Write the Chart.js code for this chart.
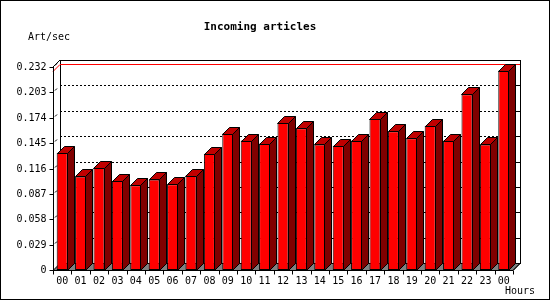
<!DOCTYPE html>
<html>
<head>
<meta charset="utf-8">
<script src="https://cdn.jsdelivr.net/npm/chart.js@4/dist/chart.umd.min.js"></script>
<style>
  body { margin: 0; background: #fff; }
  canvas { display: block; }
</style>
</head>
<body>
<canvas id="articlesChart" width="550" height="300"></canvas>
<script>
// Data
const hours = ['00', '01', '02', '03', '04', '05', '06', '07', '08', '09', '10', '11',
               '12', '13', '14', '15', '16', '17', '18', '19', '20', '21', '22', '23', '00'];
const articles = [0.134, 0.107, 0.1165, 0.102, 0.097, 0.1035, 0.098, 0.108, 0.133, 0.156, 0.148, 0.1445,
                  0.168, 0.162, 0.1435, 0.142, 0.148, 0.1725, 0.1585, 0.1505, 0.165, 0.148, 0.201, 0.1435, 0.228];
const yTicks = ['0', '0.029', '0.058', '0.087', '0.116', '0.145', '0.174', '0.203', '0.232'];

const DEPTH = 7;
const FONT = '10px "DejaVu Sans Mono", monospace';

function line(ctx, x1, y1, x2, y2) {
    ctx.beginPath();
    ctx.moveTo(x1, y1);
    ctx.lineTo(x2, y2);
    ctx.stroke();
}

function poly(ctx, pts, fill) {
    ctx.beginPath();
    ctx.moveTo(pts[0][0], pts[0][1]);
    for (let i = 1; i < pts.length; i++) ctx.lineTo(pts[i][0], pts[i][1]);
    ctx.closePath();
    ctx.fillStyle = fill;
    ctx.fill();
    ctx.stroke();
}

// 3D frame, back wall grid and extruded bars
const threeD = {
    id: 'threeD',
    beforeDatasetsDraw(chart) {
        const ctx = chart.ctx;
        const { left: L, right: R, top: T, bottom: B } = chart.chartArea;
        const y = chart.scales.y;
        const d = DEPTH;
        ctx.save();
        ctx.lineWidth = 1;
        ctx.strokeStyle = '#000';

        // floor
        poly(ctx, [[L, B + 0.5], [R, B + 0.5], [R + d, B - d + 0.5], [L + d, B - d + 0.5]], '#808080');

        // back wall frame
        ctx.strokeRect(Math.round(L + d) + 0.5, Math.round(T - d) + 0.5, Math.round(R - L), Math.round(B - T));

        // dotted grid on the back wall + left wall marks + right ticks
        ctx.setLineDash([2, 2]);
        yTicks.forEach((t, i) => {
            if (i === 0 || i === yTicks.length - 1) return;
            const py = Math.round(y.getPixelForValue(parseFloat(t))) + 0.5;
            line(ctx, L + d, py - d, R + d, py - d);
        });
        ctx.setLineDash([]);
        yTicks.forEach((t, i) => {
            if (i === 0) return;
            const py = Math.round(y.getPixelForValue(parseFloat(t))) + 0.5;
            line(ctx, R + d - 4, py - d, R + d, py - d);
            line(ctx, L + 2, py - 2, L + 4, py - 4);
        });

        // top-left diagonal
        line(ctx, L, T, L + d, T - d);

        // max line
        const maxPy = Math.round(y.getPixelForValue(Math.max(...articles))) + 0.5;
        ctx.strokeStyle = '#ff0000';
        line(ctx, L + d, maxPy - d, R + d, maxPy - d);
        line(ctx, L, maxPy, L + d, maxPy - d);
        ctx.restore();
    },
    afterDatasetsDraw(chart) {
        const ctx = chart.ctx;
        const { left: L, right: R, top: T, bottom: B } = chart.chartArea;
        const d = DEPTH;
        const meta = chart.getDatasetMeta(0);
        ctx.save();
        ctx.lineWidth = 1;
        ctx.strokeStyle = '#000';
        meta.data.forEach(bar => {
            const x1 = Math.round(bar.x - bar.width / 2) + 0.5;
            const x2 = Math.round(bar.x + bar.width / 2) - 0.5;
            const top = Math.round(bar.y) + 0.5;
            const base = Math.round(bar.base) + 0.5;
            poly(ctx, [[x2, top], [x2 + d, top - d], [x2 + d, base - d], [x2, base]], '#800000');
            poly(ctx, [[x1, top], [x2, top], [x2 + d, top - d], [x1 + d, top - d]], '#c00000');
        });

        // front axes
        const lx = Math.round(L) + 0.5;
        const by = Math.round(B) + 0.5;
        line(ctx, lx, T, lx, by);
        line(ctx, lx, by, R, by);
        line(ctx, R, by, R + d, by - d);

        // y ticks and labels
        const y = chart.scales.y;
        ctx.font = FONT;
        ctx.fillStyle = '#000';
        ctx.textAlign = 'right';
        ctx.textBaseline = 'middle';
        yTicks.forEach(t => {
            const py = Math.round(y.getPixelForValue(parseFloat(t))) + 0.5;
            line(ctx, lx - 4, py, lx, py);
            ctx.fillText(t, lx - 7, py);
        });

        // x ticks and labels
        const x = chart.scales.x;
        const step = (R - L) / hours.length;
        for (let i = 0; i <= hours.length; i++) {
            const px = Math.round(L + i * step) + 0.5;
            line(ctx, px, by, px, by + 4);
        }
        ctx.textAlign = 'center';
        hours.forEach((h, i) => {
            ctx.fillText(h, x.getPixelForValue(i), 281);
        });

        // texts
        ctx.textAlign = 'left';
        ctx.fillText('Art/sec', 28, 37);
        ctx.textAlign = 'right';
        ctx.fillText('Hours', 535, 291);
        ctx.textAlign = 'center';
        ctx.font = 'bold 11px "DejaVu Sans Mono", monospace';
        ctx.fillText('Incoming articles', 260, 27);

        // outer border
        ctx.strokeRect(0.5, 0.5, 549, 299);
        ctx.restore();
    }
};

const ctx = document.getElementById('articlesChart').getContext('2d');
const articlesChart = new Chart(ctx, {
    type: 'bar',
    data: {
        labels: hours,
        datasets: [{
            label: 'Incoming articles',
            data: articles,
            backgroundColor: '#ff0000',
            borderColor: '#000000',
            borderWidth: 1,
            borderSkipped: false,
            barPercentage: 0.6,
            categoryPercentage: 1.0
        }]
    },
    options: {
        responsive: false,
        devicePixelRatio: 1,
        animation: false,
        layout: {
            padding: { left: 53, right: 37, top: 67, bottom: 30 }
        },
        plugins: {
            legend: { display: false },
            title: { display: false },
            tooltip: { enabled: false }
        },
        scales: {
            x: { display: false, offset: true },
            y: { display: false, min: 0, max: 0.232, ticks: { stepSize: 0.029 } }
        }
    },
    plugins: [threeD]
});
</script>
</body>
</html>
